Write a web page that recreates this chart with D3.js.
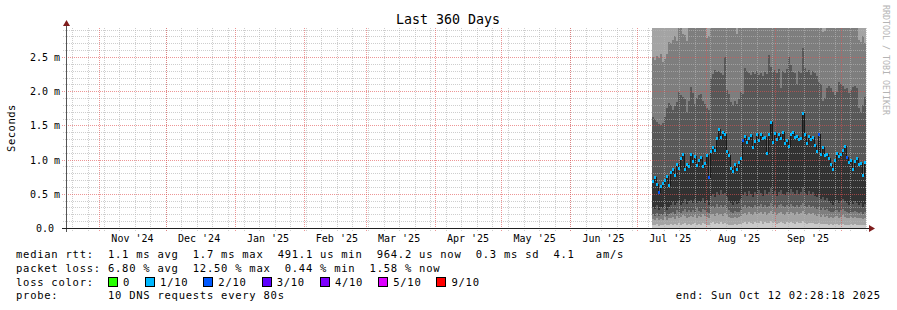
<!DOCTYPE html>
<meta charset="utf-8">
<style>
body { margin: 0; background: #fff; }
svg text { font-family: 'DejaVu Sans Mono', monospace; white-space: pre; }
</style>
<body>
<script src="https://cdn.jsdelivr.net/npm/d3@7/dist/d3.min.js"></script>
<script>
"use strict";

// ---------------- values ----------------
var endTime = new Date(Date.UTC(2025, 9, 12, 2, 28, 18));
var spanDays = 360;
var dataStart = new Date(Date.UTC(2025, 6, 8, 0, 0, 0)); // first smoke column

// median rtt per column (ms)
var median = [0.69,0.75,0.64,0.52,0.62,0.66,0.70,0.76,0.63,0.82,
  0.86,0.78,0.93,0.88,1.02,1.08,0.86,0.94,0.90,1.08,
  0.98,1.05,0.92,0.99,1.04,0.90,0.95,1.07,0.74,1.13,
  1.19,1.14,1.31,1.45,1.33,1.41,1.37,1.12,1.06,0.88,
  0.84,0.94,0.86,0.97,1.02,1.28,1.35,1.26,1.31,1.36,
  1.18,1.27,1.38,1.29,1.37,1.31,1.33,1.10,1.38,1.55,
  1.26,1.39,1.30,1.37,1.31,1.41,1.25,1.29,1.20,1.38,
  1.40,1.33,1.35,1.30,1.32,1.68,1.37,1.25,1.34,1.30,
  1.33,1.22,1.12,1.38,1.08,1.19,1.06,1.08,1.02,0.93,
  0.86,0.99,1.09,1.05,1.08,1.14,1.20,1.04,0.97,0.99,
  0.86,0.98,1.02,0.93,0.95,0.78,0.97];

// lost pings (out of 10) per column
var loss = [1,1,1,2,1,1,1,1,1,1,
  1,1,1,1,1,1,1,1,1,1,
  1,1,1,1,1,1,1,1,2,1,
  1,1,1,1,1,1,1,1,1,1,
  1,1,1,1,1,2,1,1,1,1,
  1,1,1,1,1,1,1,1,1,1,
  1,1,1,1,1,1,1,1,1,1,
  1,1,1,1,1,1,1,1,1,1,
  1,1,1,2,1,1,1,1,1,1,
  1,1,1,1,1,1,1,2,1,1,
  1,1,1,1,1,1,1];

// sorted ping edges of the smoke (ms); 3.5 = above the top of the graph
var ping8 = [2.50,2.45,2.52,2.48,2.55,2.43,2.47,2.55,2.72,2.70,
  2.75,2.80,2.74,3.50,3.50,2.84,2.82,2.73,3.50,3.50,
  3.50,3.50,3.50,3.50,3.50,3.50,3.50,2.78,2.80,3.50,
  3.50,3.50,3.50,3.50,3.50,3.50,3.50,3.50,3.50,3.50,
  3.50,3.50,2.84,3.50,3.50,3.50,3.50,3.50,3.50,3.50,
  3.50,3.50,3.50,3.50,3.50,3.50,3.50,3.50,3.50,3.50,
  3.50,3.50,3.50,3.50,3.50,3.50,3.50,3.50,3.50,3.50,
  3.50,3.50,3.50,3.50,3.50,3.50,3.50,3.50,3.50,3.50,
  3.50,3.50,3.50,3.50,3.50,2.86,2.88,3.50,3.50,3.50,
  3.50,3.50,3.50,3.50,3.50,3.50,3.50,3.50,3.50,3.50,
  3.50,3.50,3.50,2.75,2.72,2.80,2.70];

var ping7 = [1.62,1.60,1.55,1.52,1.50,1.53,1.62,1.75,1.83,1.80,
  1.72,1.78,1.84,1.99,1.95,1.92,1.88,1.70,1.86,2.06,
  1.98,1.82,1.90,1.94,1.96,1.85,1.82,1.75,1.72,2.19,
  2.25,2.31,2.28,2.30,2.27,2.24,2.50,2.02,1.96,1.84,
  1.80,1.86,1.82,1.88,1.99,1.96,2.34,2.30,2.26,2.24,
  2.28,2.25,2.30,2.24,2.27,2.22,2.28,2.25,2.53,2.35,
  2.28,2.31,2.26,2.33,2.05,2.30,2.27,2.32,2.50,2.38,
  2.28,2.27,2.10,2.30,2.26,2.63,2.34,2.28,2.31,2.24,
  2.30,2.26,2.22,2.13,2.10,1.85,1.90,2.05,2.08,2.04,
  1.99,1.95,1.99,2.13,2.10,2.08,2.03,2.05,1.98,2.02,
  2.06,2.08,2.04,1.75,1.70,1.80,1.92];

var ping5 = [0.30,0.28,0.33,0.26,0.31,0.29,0.35,0.27,0.30,0.34,
  0.38,0.33,0.36,0.40,0.34,0.37,0.42,0.35,0.39,0.41,
  0.37,0.43,0.36,0.40,0.38,0.44,0.36,0.41,0.33,0.47,
  0.50,0.46,0.52,0.48,0.55,0.49,0.51,0.45,0.40,0.36,
  0.33,0.38,0.35,0.37,0.42,0.48,0.52,0.47,0.54,0.50,
  0.46,0.53,0.49,0.56,0.51,0.47,0.55,0.50,0.52,0.58,
  0.49,0.54,0.47,0.52,0.56,0.50,0.48,0.53,0.51,0.57,
  0.52,0.49,0.55,0.50,0.53,0.60,0.51,0.48,0.54,0.50,
  0.52,0.47,0.45,0.50,0.43,0.46,0.41,0.44,0.39,0.36,
  0.34,0.38,0.41,0.37,0.40,0.43,0.39,0.36,0.33,0.38,
  0.35,0.39,0.37,0.34,0.36,0.31,0.35];

var ping4 = [0.20,0.18,0.22,0.17,0.21,0.19,0.23,0.18,0.20,0.22,
  0.24,0.21,0.26,0.23,0.22,0.25,0.28,0.23,0.26,0.24,
  0.27,0.24,0.29,0.25,0.23,0.28,0.26,0.24,0.22,0.30,
  0.32,0.29,0.35,0.31,0.33,0.30,0.34,0.29,0.27,0.24,
  0.22,0.25,0.23,0.24,0.27,0.30,0.33,0.29,0.32,0.31,
  0.29,0.34,0.30,0.32,0.35,0.31,0.33,0.30,0.32,0.36,
  0.31,0.34,0.29,0.33,0.35,0.32,0.30,0.33,0.31,0.35,
  0.32,0.30,0.34,0.31,0.33,0.37,0.32,0.30,0.33,0.31,
  0.32,0.29,0.28,0.31,0.27,0.29,0.26,0.28,0.25,0.24,
  0.23,0.25,0.27,0.24,0.26,0.28,0.25,0.23,0.22,0.24,
  0.23,0.25,0.24,0.22,0.23,0.21,0.23];

var ping3 = [0.13,0.12,0.15,0.11,0.13,0.12,0.16,0.12,0.14,0.15,
  0.16,0.13,0.18,0.15,0.16,0.19,0.17,0.15,0.16,0.18,
  0.16,0.19,0.15,0.18,0.16,0.20,0.17,0.16,0.15,0.19,
  0.21,0.18,0.22,0.19,0.21,0.18,0.22,0.19,0.16,0.15,
  0.14,0.16,0.15,0.16,0.18,0.20,0.22,0.19,0.23,0.20,
  0.19,0.23,0.20,0.22,0.24,0.20,0.23,0.19,0.22,0.25,
  0.20,0.23,0.19,0.22,0.24,0.20,0.19,0.23,0.20,0.24,
  0.22,0.19,0.23,0.20,0.22,0.25,0.20,0.19,0.22,0.20,
  0.22,0.19,0.18,0.20,0.16,0.19,0.16,0.18,0.15,0.16,
  0.15,0.16,0.18,0.15,0.16,0.19,0.16,0.15,0.14,0.16,
  0.15,0.16,0.15,0.14,0.15,0.13,0.15];

var ping2 = [0.05,0.04,0.06,0.03,0.05,0.04,0.06,0.04,0.05,0.06,
  0.05,0.06,0.05,0.07,0.05,0.06,0.08,0.05,0.06,0.05,
  0.06,0.08,0.05,0.06,0.05,0.08,0.06,0.05,0.05,0.08,
  0.09,0.06,0.08,0.06,0.09,0.06,0.08,0.06,0.05,0.05,
  0.05,0.06,0.05,0.06,0.06,0.08,0.09,0.06,0.09,0.08,
  0.06,0.09,0.08,0.08,0.10,0.06,0.09,0.08,0.08,0.10,
  0.08,0.09,0.06,0.08,0.09,0.08,0.06,0.09,0.08,0.09,
  0.08,0.06,0.09,0.08,0.08,0.10,0.08,0.06,0.08,0.08,
  0.08,0.06,0.06,0.08,0.06,0.06,0.06,0.06,0.05,0.06,
  0.05,0.06,0.06,0.05,0.06,0.06,0.05,0.05,0.05,0.06,
  0.05,0.06,0.05,0.05,0.05,0.04,0.05];

var yTickVals = [0, 0.5, 1.0, 1.5, 2.0, 2.5];
var yTickLabels = ["0.0", "0.5 m", "1.0 m", "1.5 m", "2.0 m", "2.5 m"];
var monthLabels = ["Nov '24", "Dec '24", "Jan '25", "Feb '25", "Mar '25", "Apr '25",
  "May '25", "Jun '25", "Jul '25", "Aug '25", "Sep '25"];

var lossLevels = [0, 1, 2, 3, 4, 5, 9];
var lossNames = ["0", "1/10", "2/10", "3/10", "4/10", "5/10", "9/10"];
var lossColors = ["#26ff00", "#00b8ff", "#0059ff", "#5e00ff", "#7e00ff", "#dd00ff", "#ff0000"];
var smokeColors = ["#cacaca", "#a4a4a4", "#7e7e7e", "#585858", "#323232"];

var title = "Last 360 Days";
var statLines = [
  "median rtt:  1.1 ms avg  1.7 ms max  491.1 us min  964.2 us now  0.3 ms sd  4.1   am/s",
  "packet loss: 6.80 % avg  12.50 % max  0.44 % min  1.58 % now"
];
var probeLine = "probe:       10 DNS requests every 80s";
var endLine = "end: Sun Oct 12 02:28:18 2025";

// ---------------- drawing ----------------
var width = 897, height = 310;
var plot = { left: 66, right: 866, top: 28, bottom: 228 };
var yMax = 2.924;
var startTime = new Date(endTime.getTime() - spanDays * 864e5);

var x = d3.scaleUtc().domain([startTime, endTime]).range([plot.left, plot.right]);
var y = d3.scaleLinear().domain([0, yMax]).range([plot.bottom, plot.top]);

var svg = d3.select("body").append("svg")
  .attr("width", width).attr("height", height);
svg.append("rect").attr("width", width).attr("height", height).attr("fill", "#fff");

svg.append("defs").append("clipPath").attr("id", "plotclip")
  .append("rect")
  .attr("x", plot.left).attr("y", plot.top)
  .attr("width", plot.right - plot.left).attr("height", plot.bottom - plot.top);

var n = median.length;
var step = (endTime - dataStart) / n;
var colTime = i => new Date(dataStart.getTime() + i * step);
var colX = i => Math.round(x(colTime(i)));
var py = v => Math.round(y(Math.min(v, yMax)));
var cols = d3.range(n);

// smoke: nested bands, lightest first
var bands = [
  { lo: () => 0, hi: () => yMax },
  { lo: i => ping2[i], hi: () => yMax },
  { lo: i => ping3[i], hi: i => ping8[i] },
  { lo: i => ping4[i], hi: i => ping7[i] },
  { lo: i => ping5[i], hi: i => median[i] }
];
var smoke = svg.append("g").attr("clip-path", "url(#plotclip)").attr("shape-rendering", "crispEdges");
bands.forEach(function(b, k) {
  smoke.append("g").attr("fill", smokeColors[k])
    .selectAll("rect").data(cols).join("rect")
    .attr("x", colX)
    .attr("width", i => colX(i + 1) - colX(i))
    .attr("y", i => py(b.hi(i)))
    .attr("height", i => Math.max(0, py(b.lo(i)) - py(b.hi(i))));
});

// grid (drawn over the smoke like rrdtool)
var grid = svg.append("g").attr("shape-rendering", "crispEdges")
  .attr("stroke-dasharray", "1,1").attr("stroke-width", 1);
var minorY = y.ticks(30).filter(v => v > 0 && Math.round(v * 10) % 5 !== 0);
var majorY = yTickVals.filter(v => v > 0);
var weeks = d3.utcSunday.range(startTime, endTime);
var months = d3.utcMonth.range(d3.utcMonth.ceil(startTime), endTime);
var minorCol = "rgba(180,180,180,0.65)", majorCol = "rgba(225,80,80,0.6)";

grid.append("g").attr("stroke", minorCol)
  .selectAll("line").data(minorY).join("line")
  .attr("x1", plot.left - 3).attr("x2", plot.right)
  .attr("y1", d => py(d) + 0.5).attr("y2", d => py(d) + 0.5);
grid.append("g").attr("stroke", minorCol)
  .selectAll("line").data(weeks).join("line")
  .attr("x1", d => Math.round(x(d)) + 0.5).attr("x2", d => Math.round(x(d)) + 0.5)
  .attr("y1", plot.top).attr("y2", plot.bottom + 3);
grid.append("g").attr("stroke", majorCol)
  .selectAll("line").data(majorY).join("line")
  .attr("x1", plot.left - 4).attr("x2", plot.right)
  .attr("y1", d => py(d) + 0.5).attr("y2", d => py(d) + 0.5);
grid.append("g").attr("stroke", majorCol)
  .selectAll("line").data(months).join("line")
  .attr("x1", d => Math.round(x(d)) + 0.5).attr("x2", d => Math.round(x(d)) + 0.5)
  .attr("y1", plot.top).attr("y2", plot.bottom + 4);

// median line and loss coloured marks
var medLine = d3.line().curve(d3.curveStepAfter)
  .x(d => colX(d)).y(d => py(median[Math.min(d, n - 1)]) + 0.5);
svg.append("path").datum(d3.range(n + 1))
  .attr("clip-path", "url(#plotclip)")
  .attr("fill", "none").attr("stroke", "#1a1a1a").attr("stroke-width", 1)
  .attr("shape-rendering", "crispEdges")
  .attr("d", medLine);

var lossColor = v => lossColors[lossLevels.indexOf(v)];
svg.append("g").attr("shape-rendering", "crispEdges").attr("clip-path", "url(#plotclip)")
  .selectAll("rect").data(cols).join("rect")
  .attr("x", colX)
  .attr("width", i => colX(i + 1) - colX(i))
  .attr("y", i => py(median[i]) - 1)
  .attr("height", 3)
  .attr("fill", i => lossColor(loss[i]));

// axes
var axisCol = "#202020", arrowCol = "#7f1d1d";
svg.append("line").attr("x1", plot.left + 0.5).attr("x2", plot.left + 0.5)
  .attr("y1", plot.top - 5).attr("y2", plot.bottom + 4)
  .attr("stroke", "#555").attr("shape-rendering", "crispEdges");
svg.append("line").attr("x1", plot.left - 4).attr("x2", plot.right + 4)
  .attr("y1", plot.bottom + 0.5).attr("y2", plot.bottom + 0.5)
  .attr("stroke", axisCol).attr("shape-rendering", "crispEdges");
svg.append("path").attr("fill", arrowCol)
  .attr("d", d3.line()([[plot.left + 0.5, plot.top - 8], [plot.left - 3, plot.top - 2], [plot.left + 4, plot.top - 2]]));
svg.append("path").attr("fill", arrowCol)
  .attr("d", d3.line()([[plot.right + 9, plot.bottom + 0.5], [plot.right + 3, plot.bottom - 3], [plot.right + 3, plot.bottom + 4]]));

// y tick labels
svg.append("g").attr("font-size", "10px").attr("fill", "#000").attr("text-anchor", "end")
  .selectAll("text").data(yTickVals).join("text")
  .attr("x", (d, i) => yTickLabels[i].indexOf("m") < 0 ? 54 : 60)
  .attr("y", d => py(d) + 3.5)
  .text((d, i) => yTickLabels[i]);

// x month labels, centred mid-month
svg.append("g").attr("font-size", "10px").attr("fill", "#000").attr("text-anchor", "middle")
  .selectAll("text").data(months.slice(0, monthLabels.length)).join("text")
  .attr("x", d => x(d3.utcDay.offset(d, 15)))
  .attr("y", 241.5)
  .text((d, i) => monthLabels[i]);

// title and axis titles
svg.append("text").attr("x", 448).attr("y", 23.5).attr("text-anchor", "middle")
  .attr("font-size", "13.3px").text(title);
svg.append("text").attr("transform", "translate(15," + ((plot.top + plot.bottom) / 2) + ") rotate(-90)")
  .attr("text-anchor", "middle").attr("font-size", "10.5px").attr("letter-spacing", "0.5px")
  .text("Seconds");
svg.append("text").attr("transform", "translate(883,5) rotate(90)")
  .attr("font-size", "8.3px").attr("fill", "#b4b4b4")
  .text("RRDTOOL / TOBI OETIKER");

// legend
var cw = 7.07, fs = "10.5px", ls = "0.75px";
var leg = svg.append("g").attr("font-size", fs).attr("letter-spacing", ls).attr("fill", "#000");
leg.selectAll("text.stat").data(statLines).join("text").attr("class", "stat")
  .attr("x", 16).attr("y", (d, i) => 258 + i * 13.8)
  .text(d => d);
leg.append("text").attr("x", 16).attr("y", 285.6).text("loss color:");
var cursor = 108;
lossNames.forEach(function(name, k) {
  leg.append("rect").attr("x", cursor + 0.5).attr("y", 277.5).attr("width", 9).attr("height", 9)
    .attr("fill", lossColors[k]).attr("stroke", "#000").attr("stroke-width", 1)
    .attr("shape-rendering", "crispEdges");
  leg.append("text").attr("x", cursor + 15).attr("y", 285.6).text(name);
  cursor += 15 + name.length * cw + 15;
});
leg.append("text").attr("x", 16).attr("y", 299.4).text(probeLine);
leg.append("text").attr("x", 880 - endLine.length * cw + 0.75).attr("y", 299.4).text(endLine);
</script>
</body>
